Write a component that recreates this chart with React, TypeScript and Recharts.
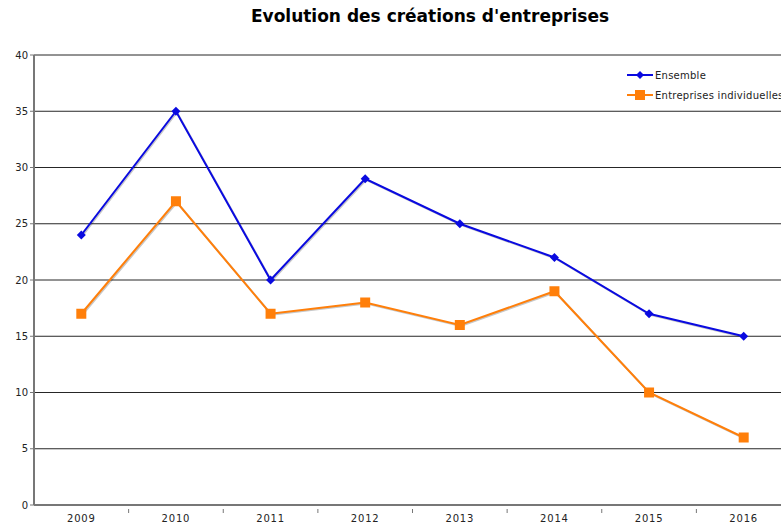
import { LineChart, Line, XAxis, YAxis, CartesianGrid } from "recharts";

const years = ["2009", "2010", "2011", "2012", "2013", "2014", "2015", "2016"];
const ensemble = [24, 35, 20, 29, 25, 22, 17, 15];
const individuelles = [17, 27, 17, 18, 16, 19, 10, 6];
const yTicks = [0, 5, 10, 15, 20, 25, 30, 35, 40];

const data = years.map((year, i) => ({
  year,
  ensemble: ensemble[i],
  individuelles: individuelles[i],
}));

const BLUE = "#0a0ae0";
const ORANGE = "#ff7f0a";
const AXIS = "#777";
const FONT = "DejaVu Sans, Verdana, sans-serif";

// plot spans 757px over 8 categories
const BAND = 757 / 8;

function DiamondDot(props: any) {
  const { cx, cy } = props;
  if (cx == null || cy == null) return null;
  const r = 4.5;
  return (
    <path
      d={`M${cx},${cy - r} L${cx + r},${cy} L${cx},${cy + r} L${cx - r},${cy} Z`}
      fill={BLUE}
    />
  );
}

function SquareDot(props: any) {
  const { cx, cy } = props;
  if (cx == null || cy == null) return null;
  return <rect x={cx - 5} y={cy - 5} width={10} height={10} fill={ORANGE} />;
}

function XTick(props: any) {
  const { x, y, payload, index } = props;
  return (
    <g>
      {index > 0 && (
        <line x1={x - BAND / 2} x2={x - BAND / 2} y1={y - 4} y2={y} stroke={AXIS} />
      )}
      <text
        x={x}
        y={y + 9}
        textAnchor="middle"
        fontSize={10}
        fontFamily={FONT}
        fill="#222"
        letterSpacing={0.8}
      >
        {payload.value}
      </text>
    </g>
  );
}

function LegendBox() {
  const items = [
    { label: "Ensemble", color: BLUE, shape: "diamond" },
    { label: "Entreprises individuelles", color: ORANGE, shape: "square" },
  ];
  return (
    <div
      style={{
        position: "absolute",
        top: 65,
        left: 627,
        fontFamily: FONT,
        fontSize: 10,
        color: "#222",
        letterSpacing: 0.25,
      }}
    >
      {items.map((it) => (
        <div key={it.label} style={{ display: "flex", alignItems: "center", height: 20 }}>
          <svg width={26} height={12} style={{ marginRight: 2 }}>
            <line x1={0} x2={26} y1={6} y2={6} stroke={it.color} strokeWidth={2} />
            {it.shape === "diamond" ? (
              <path d="M13,2 L17,6 L13,10 L9,6 Z" fill={it.color} />
            ) : (
              <rect x={8} y={1} width={10} height={10} fill={it.color} />
            )}
          </svg>
          <span style={{ whiteSpace: "nowrap" }}>{it.label}</span>
        </div>
      ))}
    </div>
  );
}

export default function App() {
  return (
    <div
      style={{
        position: "fixed",
        left: 0,
        top: 0,
        width: 781,
        height: 524,
        overflow: "hidden",
        background: "#fff",
      }}
    >
      <style>{`.recharts-line-curve { filter: drop-shadow(1px 1.5px 0.6px rgba(0,0,0,0.22)); }`}</style>
      <div
        style={{
          position: "absolute",
          top: 6,
          left: 0,
          width: 860,
          textAlign: "center",
          fontFamily: FONT,
          fontWeight: "bold",
          fontSize: 17,
          color: "#000",
        }}
      >
        Evolution des créations d'entreprises
      </div>
      <LineChart
        width={800}
        height={524}
        data={data}
        margin={{ top: 55, right: 9, bottom: 0, left: 0 }}
      >
        <CartesianGrid vertical={false} stroke="#000" strokeOpacity={0.85} />
        <XAxis
          dataKey="year"
          scale="band"
          stroke={AXIS}
          strokeWidth={2}
          tickLine={false}
          tick={<XTick />}
          height={19}
          interval={0}
        />
        <YAxis
          domain={[0, 40]}
          ticks={yTicks}
          width={34}
          stroke={AXIS}
          strokeWidth={2}
          tickSize={4}
          tickLine={{ stroke: AXIS, strokeWidth: 1 }}
          tick={{ fontSize: 10, fontFamily: FONT, fill: "#222" }}
          interval={0}
        />
        <Line
          dataKey="ensemble"
          name="Ensemble"
          stroke={BLUE}
          strokeWidth={2}
          dot={<DiamondDot />}
          activeDot={false}
          isAnimationActive={false}
        />
        <Line
          dataKey="individuelles"
          name="Entreprises individuelles"
          stroke={ORANGE}
          strokeWidth={2}
          dot={<SquareDot />}
          activeDot={false}
          isAnimationActive={false}
        />
      </LineChart>
      <LegendBox />
    </div>
  );
}
